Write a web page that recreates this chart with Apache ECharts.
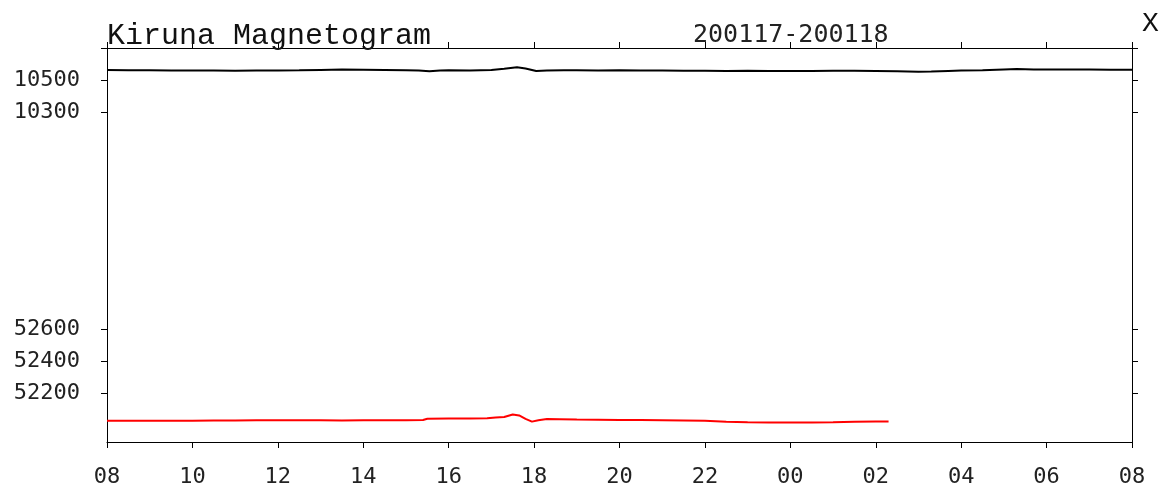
<!DOCTYPE html>
<html>
<head>
<meta charset="utf-8">
<title>Kiruna Magnetogram</title>
<script src="https://cdn.jsdelivr.net/npm/echarts@6/dist/echarts.min.js"></script>
<style>
  html, body { margin: 0; padding: 0; background: #fff; }
  #chart { width: 1164px; height: 490px; }
</style>
</head>
<body>
<div id="chart"></div>
<script>
// hours counted from 08 UT on day 1 (8 .. 32)
var hourTicks = [8, 10, 12, 14, 16, 18, 20, 22, 24, 26, 28, 30, 32]

// X component (nT), black trace
var xTimes = [8.0, 8.5, 9.0, 9.5, 10.0, 10.5, 11.0, 11.5, 12.0, 12.5, 13.0, 13.5, 14.0, 14.5,
  15.0, 15.3, 15.55, 15.8, 16.0, 16.5, 17.0, 17.3, 17.6, 17.8, 18.05, 18.3, 18.7, 19.0,
  19.5, 20.0, 20.5, 21.0, 21.5, 22.0, 22.5, 23.0, 23.5, 24.0, 24.5, 25.0, 25.5, 26.0,
  26.5, 27.0, 27.3, 27.7, 28.0, 28.5, 29.0, 29.3, 29.7, 30.0, 30.5, 31.0, 31.5, 32.0]
var xValues = [10562, 10561, 10561, 10560, 10559, 10559, 10558, 10559, 10560, 10561, 10563, 10565, 10564, 10563,
  10561, 10559, 10554, 10560, 10561, 10559, 10562, 10570, 10580, 10572, 10556, 10559, 10561, 10561,
  10560, 10561, 10560, 10559, 10558, 10558, 10557, 10558, 10557, 10556, 10557, 10558, 10558, 10557,
  10555, 10551, 10553, 10557, 10559, 10561, 10566, 10568, 10566, 10565, 10566, 10565, 10564, 10564]

// total field F (nT), red trace
var fTimes = [8.0, 8.5, 9.0, 9.5, 10.0, 10.5, 11.0, 11.5, 12.0, 12.5, 13.0, 13.5, 14.0, 14.5,
  15.0, 15.4, 15.5, 16.0, 16.5, 16.9, 17.1, 17.3, 17.5, 17.65, 17.8, 17.95, 18.1, 18.3,
  18.6, 19.0, 19.5, 20.0, 20.5, 21.0, 21.5, 22.0, 22.5, 23.0, 23.5, 24.0, 24.5, 25.0,
  25.5, 26.0, 26.3]
var fValues = [52027, 52027, 52026, 52027, 52027, 52028, 52028, 52029, 52030, 52030, 52029, 52028, 52029, 52029,
  52030, 52031, 52039, 52040, 52040, 52042, 52047, 52050, 52066, 52060, 52038, 52021, 52030, 52037,
  52036, 52034, 52033, 52032, 52031, 52030, 52028, 52026, 52020, 52017, 52016, 52015, 52016, 52017,
  52020, 52022, 52022]

var xTickValues = [10700, 10500, 10300]
var xLabelValues = [10500, 10300]
var fTickValues = [52600, 52400, 52200]

function pairs (ts, vs) {
  return ts.map(function (t, i) { return [t, vs[i]] })
}

var labelFont = {
  fontFamily: 'DejaVu Sans Mono',
  fontSize: 22,
  color: '#222'
}

function yAxisDef (pos, min, max, ticks, labels, showLine) {
  return {
    type: 'value',
    position: pos,
    min: min,
    max: max,
    splitLine: { show: false },
    axisLine: { show: showLine, onZero: false, lineStyle: { color: '#000', width: 1 } },
    axisTick: { show: true, length: 6, customValues: ticks, lineStyle: { color: '#000' } },
    axisLabel: Object.assign({
      show: labels.length > 0,
      margin: 27,
      customValues: labels.length ? labels : ticks,
      formatter: function (v) { return String(v) }
    }, labelFont)
  }
}

var chart = echarts.init(document.getElementById('chart'))
var option = {
  animation: false,
  backgroundColor: '#fff',
  title: [
    {
      text: 'Kiruna Magnetogram',
      left: 107,
      top: 21,
      padding: 0,
      textStyle: { fontFamily: 'Liberation Mono', fontSize: 30, fontWeight: 'normal', color: '#111' }
    },
    {
      text: '200117-200118',
      left: 693,
      top: 23,
      padding: 0,
      textStyle: { fontFamily: 'DejaVu Sans Mono', fontSize: 25, fontWeight: 'normal', color: '#222' }
    },
    {
      text: 'X',
      left: 1142,
      top: 10,
      padding: 0,
      textStyle: { fontFamily: 'Liberation Mono', fontSize: 28, fontWeight: 'normal', color: '#111' }
    }
  ],
  grid: { left: 107, right: 32, top: 48, bottom: 48 },
  xAxis: [
    {
      type: 'value',
      position: 'bottom',
      min: 8,
      max: 32,
      interval: 2,
      splitLine: { show: false },
      axisLine: { onZero: false, lineStyle: { color: '#000', width: 1 } },
      axisTick: { length: 6, lineStyle: { color: '#000' } },
      axisLabel: Object.assign({
        margin: 24,
        formatter: function (v) {
          var h = v % 24
          return (h < 10 ? '0' : '') + h
        }
      }, labelFont)
    },
    {
      type: 'value',
      position: 'top',
      min: 8,
      max: 32,
      interval: 2,
      splitLine: { show: false },
      axisLine: { onZero: false, lineStyle: { color: '#000', width: 1 } },
      axisTick: { length: 6, lineStyle: { color: '#000' } },
      axisLabel: { show: false }
    }
  ],
  yAxis: [
    yAxisDef('left', 8237.5, 10700, xTickValues, xLabelValues, true),
    yAxisDef('left', 51893.75, 54356.25, fTickValues, fTickValues, false),
    yAxisDef('right', 8237.5, 10700, xTickValues, [], true),
    yAxisDef('right', 51893.75, 54356.25, fTickValues, [], false)
  ],
  series: [
    {
      name: 'X',
      type: 'line',
      xAxisIndex: 0,
      yAxisIndex: 0,
      showSymbol: false,
      lineStyle: { color: '#000', width: 2 },
      data: pairs(xTimes, xValues)
    },
    {
      name: 'F',
      type: 'line',
      xAxisIndex: 0,
      yAxisIndex: 1,
      showSymbol: false,
      lineStyle: { color: '#ff0000', width: 2 },
      data: pairs(fTimes, fValues)
    }
  ]
}
chart.setOption(option)
</script>
</body>
</html>
